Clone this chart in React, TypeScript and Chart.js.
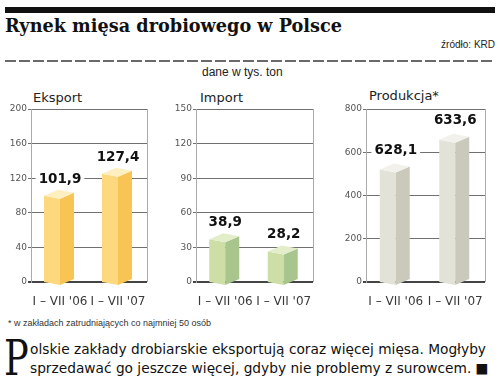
import React, { useEffect, useLayoutEffect, useRef } from "react";
import { Chart, registerables } from "chart.js";

Chart.register(...registerables);

// ---- data ----
const periods = ["I – VII '06", "I – VII '07"];

const eksportValues = [101.9, 127.4];
const eksportLabels = ["101,9", "127,4"];
const eksportTicks = [0, 40, 80, 120, 160, 200];

const importValues = [38.9, 28.2];
const importLabels = ["38,9", "28,2"];
const importTicks = [0, 30, 60, 90, 120, 150];

// In the original graphic the production bars are drawn at these heights
// (they are not to scale with the printed labels).
const produkcjaValues = [530, 667];
const produkcjaLabels = ["628,1", "633,6"];
const produkcjaTicks = [0, 200, 400, 600, 800];

type PanelProps = {
  values: number[];
  labels: string[];
  ticks: number[];
  left: number;
  padRight: number;
  front: string;
  side: string;
  top: string;
  labelOffset: number;
};

function Panel(p: PanelProps) {
  const ref = useRef<HTMLCanvasElement | null>(null);
  useEffect(() => {
    if (!ref.current) return;
    const bars3d = {
      id: "bars3d",
      afterDatasetsDraw(chart: any) {
        const ctx = chart.ctx;
        const area = chart.chartArea;
        ctx.save();
        ctx.strokeStyle = "#aaaaaa";
        ctx.lineWidth = 1;
        ctx.beginPath();
        ctx.moveTo(Math.round(area.right) + 0.5, area.top);
        ctx.lineTo(Math.round(area.right) + 0.5, area.bottom);
        ctx.stroke();
        const meta = chart.getDatasetMeta(0);
        meta.data.forEach((el: any, i: number) => {
          const x = el.x;
          const y = el.y;
          const b = el.base;
          const L = x - 16;
          const F = x;
          const R = x + 14;
          ctx.fillStyle = p.front;
          ctx.beginPath();
          ctx.moveTo(L, y + 2);
          ctx.lineTo(F, y + 5);
          ctx.lineTo(F, b + 4);
          ctx.lineTo(L, b + 1);
          ctx.closePath();
          ctx.fill();
          ctx.fillStyle = p.side;
          ctx.beginPath();
          ctx.moveTo(F, y + 5);
          ctx.lineTo(R, y - 1);
          ctx.lineTo(R, b - 2);
          ctx.lineTo(F, b + 4);
          ctx.closePath();
          ctx.fill();
          ctx.fillStyle = p.top;
          ctx.beginPath();
          ctx.moveTo(L, y + 2);
          ctx.lineTo(F, y + 5);
          ctx.lineTo(R, y - 1);
          ctx.lineTo(L + R - F, y - 4);
          ctx.closePath();
          ctx.fill();
          const txt = p.labels[i];
          ctx.font = "bold 13.5px 'DejaVu Sans'";
          const w = ctx.measureText(txt).width;
          const cy = y - p.labelOffset;
          ctx.fillStyle = "#ffffff";
          ctx.fillRect(x - w / 2 - 3, cy - 7, w + 6, 14);
          ctx.fillStyle = "#111111";
          ctx.textAlign = "center";
          ctx.textBaseline = "middle";
          ctx.fillText(txt, x, cy);
        });
        ctx.restore();
      },
    };
    const max = p.ticks[p.ticks.length - 1];
    const step = p.ticks[1] - p.ticks[0];
    const chart = new Chart(ref.current, {
      type: "bar",
      data: {
        labels: periods,
        datasets: [
          {
            data: p.values,
            backgroundColor: "rgba(0,0,0,0)",
            borderWidth: 0,
            barThickness: 30,
          },
        ],
      },
      options: {
        animation: false,
        responsive: false,
        maintainAspectRatio: false,
        devicePixelRatio: 1,
        layout: { padding: { top: 9, right: p.padRight, left: 0, bottom: 0 } },
        plugins: { legend: { display: false }, tooltip: { enabled: false } },
        scales: {
          x: {
            grid: { display: false },
            border: { display: false },
            ticks: {
              color: "#3a3a3a",
              font: { family: "'DejaVu Sans'", size: 12 },
              padding: 5,
              maxRotation: 0,
              autoSkip: false,
            },
            afterFit: (s: any) => {
              s.height = 24;
            },
          },
          y: {
            min: 0,
            max: max,
            ticks: {
              stepSize: step,
              color: "#555555",
              font: { family: "'DejaVu Sans'", size: 9 },
              padding: 1,
            },
            grid: {
              color: (c: any) => (c.tick && c.tick.value === 0 ? "#444444" : "#707070"),
              lineWidth: (c: any) => (c.tick && c.tick.value === 0 ? 2 : 1),
              tickLength: 3,
            },
            border: { display: true, color: "#aaaaaa", width: 1 },
            afterFit: (s: any) => {
              s.width = 31;
            },
          },
        },
      },
      plugins: [bars3d],
    } as any);
    return () => chart.destroy();
  }, []);
  return (
    <canvas
      ref={ref}
      width={160}
      height={206}
      style={{ position: "absolute", left: p.left, top: 100, width: 160, height: 206 }}
    />
  );
}

const txt = (extra: React.CSSProperties): React.CSSProperties => ({
  position: "absolute",
  whiteSpace: "nowrap",
  margin: 0,
  ...extra,
});

// Scales an element horizontally so that its natural width matches `target`.
function useFitWidth(ref: React.RefObject<HTMLElement | null>, target: number, apply?: HTMLElement[]) {
  useLayoutEffect(() => {
    const el = ref.current;
    if (!el) return;
    const w = el.getBoundingClientRect().width;
    if (w > 0) {
      const s = target / w;
      const list = apply && apply.length ? apply : [el];
      list.forEach((e) => {
        e.style.transformOrigin = "left top";
        e.style.transform = `scaleX(${s})`;
      });
    }
  }, []);
}

export default function App() {
  const titleRef = useRef<HTMLSpanElement | null>(null);
  const line1Ref = useRef<HTMLSpanElement | null>(null);
  const line2Ref = useRef<HTMLSpanElement | null>(null);
  useEffect(() => {
    document.body.style.margin = "0";
  }, []);
  useFitWidth(titleRef, 337);
  useLayoutEffect(() => {
    const a = line1Ref.current;
    const b = line2Ref.current;
    if (!a || !b) return;
    const w = a.getBoundingClientRect().width;
    if (w > 0) {
      const s = 456 / w;
      [a, b].forEach((e) => {
        e.style.transformOrigin = "left top";
        e.style.transform = `scaleX(${s})`;
      });
    }
  }, []);
  return (
    <div
      style={{
        position: "absolute",
        left: 0,
        top: 0,
        width: 500,
        height: 379,
        background: "#ffffff",
        overflow: "hidden",
        color: "#111",
      }}
    >
      <div style={{ position: "absolute", left: 5, top: 7, width: 490, height: 6, background: "#111" }} />
      <span
        ref={titleRef}
        style={txt({
          left: 5,
          top: 16,
          display: "inline-block",
          fontFamily: "'DejaVu Serif'",
          fontWeight: "bold",
          fontSize: 19,
          lineHeight: "19px",
        })}
      >
        Rynek mięsa drobiowego w Polsce
      </span>
      <div
        style={txt({
          right: 5,
          top: 39.5,
          fontFamily: "'Liberation Sans'",
          fontSize: 10,
          lineHeight: "10px",
          color: "#222",
        })}
      >
        źródło: KRD
      </div>
      <div
        style={{
          position: "absolute",
          left: 5,
          top: 60,
          width: 490,
          height: 2,
          background: "repeating-linear-gradient(to right, #6a6a6a 0 11px, transparent 11px 14px)",
        }}
      />
      <div
        style={txt({
          left: 202,
          top: 66,
          fontFamily: "'Liberation Sans'",
          fontSize: 12,
          lineHeight: "12px",
          color: "#222",
        })}
      >
        dane w tys. ton
      </div>

      <div style={txt({ left: 33, top: 91, fontFamily: "'DejaVu Sans'", fontSize: 13, lineHeight: "13px", color: "#222" })}>
        Eksport
      </div>
      <div style={txt({ left: 200, top: 91, fontFamily: "'DejaVu Sans'", fontSize: 13, lineHeight: "13px", color: "#222" })}>
        Import
      </div>
      <div style={txt({ left: 369, top: 89, fontFamily: "'DejaVu Sans'", fontSize: 13, lineHeight: "13px", color: "#222" })}>
        Produkcja*
      </div>

      <Panel
        values={eksportValues}
        labels={eksportLabels}
        ticks={eksportTicks}
        left={0}
        padRight={13}
        front="#fdd87e"
        side="#f8c453"
        top="#fdefbf"
        labelOffset={14}
      />
      <Panel
        values={importValues}
        labels={importLabels}
        ticks={importTicks}
        left={165}
        padRight={12}
        front="#cddea6"
        side="#a9c58e"
        top="#e3edc9"
        labelOffset={15}
      />
      <Panel
        values={produkcjaValues}
        labels={produkcjaLabels}
        ticks={produkcjaTicks}
        left={335}
        padRight={10}
        front="#e3e2d8"
        side="#cbc9bc"
        top="#f2f1eb"
        labelOffset={17}
      />

      <div
        style={txt({
          left: 8,
          top: 318.5,
          fontFamily: "'Liberation Sans'",
          fontSize: 9,
          lineHeight: "9px",
          color: "#333",
        })}
      >
        * w zakładach zatrudniających co najmniej 50 osób
      </div>

      <div
        style={txt({
          left: 4,
          top: 334,
          fontFamily: "'DejaVu Serif'",
          fontSize: 49,
          lineHeight: "49px",
          color: "#111",
          transformOrigin: "left top",
          transform: "scaleX(0.75)",
        })}
      >
        P
      </div>
      <span
        ref={line1Ref}
        style={txt({
          left: 30,
          top: 340,
          display: "inline-block",
          fontFamily: "'DejaVu Sans'",
          fontSize: 13.5,
          lineHeight: "19px",
          color: "#111",
        })}
      >
        olskie zakłady drobiarskie eksportują coraz więcej mięsa. Mogłyby
      </span>
      <span
        ref={line2Ref}
        style={txt({
          left: 30,
          top: 359,
          display: "inline-block",
          fontFamily: "'DejaVu Sans'",
          fontSize: 13.5,
          lineHeight: "19px",
          color: "#111",
        })}
      >
        sprzedawać go jeszcze więcej, gdyby nie problemy z surowcem. ■
      </span>
    </div>
  );
}
